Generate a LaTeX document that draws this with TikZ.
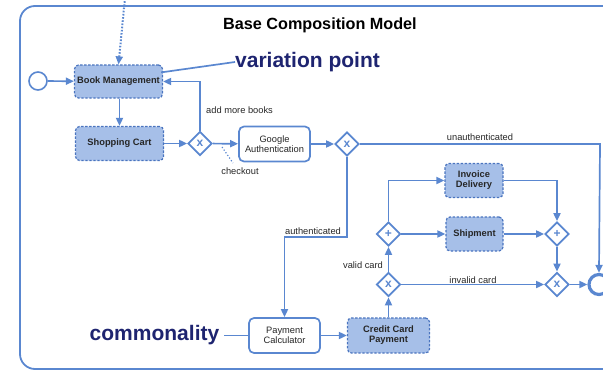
\documentclass[tikz,border=0pt]{standalone}
\usepackage{fontspec}
\setmainfont{Liberation Sans}
\usetikzlibrary{arrows.meta,shapes.geometric,calc}

\definecolor{flow}{HTML}{5A87D0}
\definecolor{taskfill}{HTML}{A6BFE8}
\definecolor{taskedge}{HTML}{4A74BF}
\definecolor{navy}{HTML}{1E2470}
\definecolor{labelgray}{HTML}{262626}

\tikzset{
  flowline/.style={draw=flow, line width=1.7pt, -{Triangle[length=8pt,width=7pt]}},
  plainline/.style={draw=flow, line width=1.7pt},
  vartask/.style={draw=taskedge, fill=taskfill, line width=1.2pt,
    dash pattern=on 2.4pt off 1.6pt, rounded corners=4pt,
    font=\fontsize{9.3}{11}\selectfont\bfseries, text=black!85,
    align=center, inner sep=0pt},
  plaintask/.style={draw=flow, fill=white, line width=1.7pt, rounded corners=5pt,
    font=\fontsize{9.3}{11}\selectfont, text=black!85, align=center, inner sep=0pt},
  gate/.style={diamond, draw=flow, fill=white, line width=1.7pt,
    minimum width=24pt, minimum height=24pt, inner sep=0pt,
    text=flow, font=\fontsize{12}{12}\selectfont\bfseries},
  flowlabel/.style={font=\fontsize{9.3}{11}\selectfont, text=labelgray, inner sep=0pt},
  callout/.style={font=\fontsize{21}{24}\selectfont\bfseries, text=navy, inner sep=0pt}
}

\begin{document}
\begin{tikzpicture}[x=1pt,y=-1pt]
\useasboundingbox (0,0) rectangle (603,370);
\clip (0,0) rectangle (603,370);

% pool frame
\draw[flow, line width=1.8pt, rounded corners=15pt] (20,369) -- (20,6) -- (720,6) -- (720,369) -- cycle;

% title
\node[font=\fontsize{16.2}{19}\selectfont\bfseries, inner sep=0pt] (title) at (320,25) {Base Composition Model};

% events
\node[circle, draw=flow, fill=white, line width=1.6pt, minimum size=18pt, inner sep=0pt] (start) at (38,81) {};
\node[circle, draw=flow, fill=white, line width=3.2pt, minimum size=20pt, inner sep=0pt] (end) at (599,284.5) {};

% tasks
\node[vartask, minimum width=88pt, minimum height=33pt] (bm) at (118.5,81.5) {Book Management};
\node[vartask, minimum width=88pt, minimum height=34pt] (sc) at (119.5,143.5) {Shopping Cart};
\node[plaintask, minimum width=71pt, minimum height=35pt] (ga) at (274.5,144) {Google\\[-1pt]Authentication};
\node[plaintask, minimum width=71pt, minimum height=35pt] (pc) at (284.5,335.5) {Payment\\[-1pt]Calculator};
\node[vartask, minimum width=82pt, minimum height=35pt] (ccp) at (388.5,335.5) {Credit Card\\[-1pt]Payment};
\node[vartask, minimum width=58pt, minimum height=34pt] (inv) at (474,180.5) {Invoice\\[-1pt]Delivery};
\node[vartask, minimum width=57pt, minimum height=34pt] (ship) at (474.5,234) {Shipment};

% gateways
\node[gate] (g1) at (200,143.5) {x};
\node[gate] (g2) at (347,144) {x};
\node[gate] (g3) at (388.5,284.5) {x};
\node[gate] (p1) at (388.5,234) {+};
\node[gate] (p2) at (557,234) {+};
\node[gate] (g4) at (557,284.5) {x};

% callouts
\node[callout, anchor=west] (vp) at (235,62) {variation point};
\node[callout] (comm) at (154.5,335.5) {commonality};
\draw[plainline] (vp.west) -- ($(bm.north east)+(-2,8)$);
\draw[plainline] ($(comm.east)+(5,0)$) -- (pc.west);

% incoming dotted association from above
\coordinate (src) at (125,-2);
\draw[draw=flow, line width=2pt, dash pattern=on 1.6pt off 1.6pt, -{Triangle[length=8pt,width=7pt]}] (src) -- (bm.north);

% sequence flows
\draw[flowline] (start) -- (bm);
\draw[flowline] (bm.south -| sc.north) -- (sc.north);
\draw[flowline] (sc) -- (g1);
\draw[flowline] (g1.north) |- (bm.east);
\node[flowlabel, anchor=west] (addmore) at (206,110) {add more books};
\draw[flowline] (g1) -- (ga);
\coordinate (chkA) at (222,147);
\coordinate (chkB) at (233,163);
\draw[flow, line width=1.2pt, dotted] (chkA) -- (chkB);
\node[flowlabel] (chk) at (240,171) {checkout};
\draw[flowline] (ga) -- (g2);

\coordinate (unauthcorner) at (600,144);
\draw[flowline] (g2.east) -- (unauthcorner) -- (end.north);
\node[flowlabel] (unauth) at (480,137) {unauthenticated};

\coordinate (authcorner) at (347,237);
\draw[flowline] (g2.south) -- (authcorner) -| (pc.north);
\node[flowlabel] (auth) at (313,231) {authenticated};

\draw[flowline] (pc) -- (ccp);
\draw[flowline] (ccp.north) -- (g3.south);
\draw[flowline] (g3.north) -- (p1.south);
\node[flowlabel] (valid) at (363,265) {valid card};
\draw[flowline] (p1.north) |- (inv.west);
\draw[flowline] (p1.east) -- (ship.west);
\draw[flowline] (inv.east) -| (p2.north);
\draw[flowline] (ship.east) -- (p2.west);
\draw[flowline] (p2.south) -- (g4.north);
\draw[flowline] (g3.east) -- (g4.west);
\node[flowlabel] (invalid) at (473,280) {invalid card};
\draw[flowline] (g4.east) -- (end.west);
\end{tikzpicture}
\end{document}
